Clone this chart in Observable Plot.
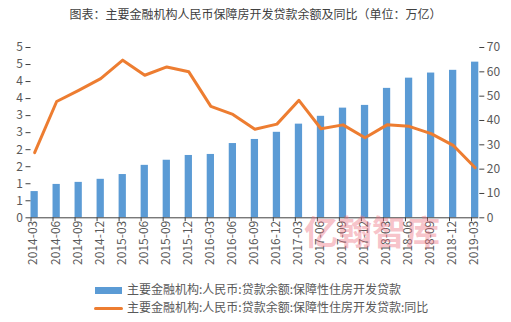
<!DOCTYPE html>
<html>
<head>
<meta charset="utf-8">
<script src="https://cdn.jsdelivr.net/npm/d3@7"></script>
<script src="https://cdn.jsdelivr.net/npm/@observablehq/plot@0.6"></script>
<style>
  html, body { margin: 0; padding: 0; background: #fff; }
  body { width: 511px; height: 322px; position: relative; overflow: hidden; font-family: "Noto Sans CJK SC", "Noto Sans", sans-serif; }
  #title { height: 28px; line-height: 28px; text-align: center; font-size: 12px; color: #404040; }
  #chart { height: 250px; }
  #legend { position: absolute; left: 0; top: 278px; width: 511px; font-size: 12px; color: #595959; }
  .row { position: absolute; left: 94px; height: 18px; line-height: 18px; white-space: nowrap; }
  .sw { display: inline-block; vertical-align: middle; margin-right: 4px; }
  #wm { position: absolute; left: 304px; top: 206px; font-size: 34px; font-weight: bold; color: rgba(236,110,125,0.42); pointer-events: none; white-space: nowrap; }
</style>
</head>
<body>
<div id="title">图表：主要金融机构人民币保障房开发贷款余额及同比（单位：万亿）</div>
<div id="chart"></div>
<div id="legend"></div>
<div id="wm">亿翰智库</div>
<script>
const categories = ["2014-03","2014-06","2014-09","2014-12","2015-03","2015-06","2015-09","2015-12","2016-03","2016-06","2016-09","2016-12","2017-03","2017-06","2017-09","2017-12","2018-03","2018-06","2018-09","2018-12","2019-03"];
const balance = [0.77,0.98,1.04,1.13,1.27,1.54,1.69,1.83,1.86,2.18,2.30,2.51,2.75,2.98,3.22,3.30,3.80,4.10,4.25,4.33,4.57];
const yoy = [26.8,47.8,52.4,57.2,64.8,58.6,62.0,60.0,45.8,42.5,36.4,38.5,48.3,36.6,38.2,32.9,38.2,37.6,34.6,29.8,20.6];
const leftTicks = [0,0.5,1,1.5,2,2.5,3,3.5,4,4.5,5];
const rightTicks = [0,10,20,30,40,50,60,70];
const seriesNames = ["主要金融机构:人民币:贷款余额:保障性住房开发贷款", "主要金融机构:人民币:贷款余额:保障性住房开发贷款:同比"];

const data = categories.map((c, i) => ({c, b: balance[i], r: yoy[i]}));
const W = 511, mL = 30.5, mR = 32.7, pin = 0.67;
const step = (W - mL - mR) / (categories.length - pin);
const bw = step * (1 - pin);
const k = 5 / 70;

const chart = Plot.plot({
  width: W, height: 250,
  marginTop: 19, marginBottom: 60.7, marginLeft: mL, marginRight: mR,
  style: {fontFamily: "Noto Sans CJK SC, Noto Sans, sans-serif", fontSize: "12px", background: "white", overflow: "visible"},
  x: {type: "band", domain: categories, paddingInner: pin, paddingOuter: 0, round: false, axis: null, label: null},
  y: {domain: [0, 5], axis: null, label: null},
  marks: [
    Plot.barY(data, {x: "c", y: "b", fill: "#5b9bd5"}),
    Plot.line(data, {x: "c", y: d => d.r * k, stroke: "#ed7d31", strokeWidth: 3, strokeLinejoin: "round"}),
    Plot.ruleY([0], {stroke: "#404040"}),
    Plot.axisY(leftTicks, {anchor: "left", label: null, tickSize: 5, tickPadding: 3, line: true, color: "#595959", stroke: "#404040", tickFormat: d => String(Math.round(d)), fontSize: 12}),
    Plot.axisY(rightTicks.map(v => v * k), {anchor: "right", label: null, tickSize: 5, tickPadding: 3, line: true, color: "#595959", stroke: "#404040", tickFormat: d => String(Math.round(d / k)), fontSize: 12}),
    Plot.axisX({anchor: "bottom", label: null, tickSize: 4, text: null, dx: -bw / 2, stroke: "#404040"}),
    Plot.axisX({anchor: "bottom", label: null, tickSize: 0, tickPadding: 3, tickRotate: -90, dx: -1, color: "#595959", fontSize: 12})
  ]
});
document.getElementById("chart").appendChild(chart);

const legend = document.getElementById("legend");
legend.innerHTML =
  `<div class="row" style="top:2px"><span class="sw" style="width:27px;height:7px;background:#5b9bd5;margin-left:1px;margin-right:5px"></span>${seriesNames[0]}</div>` +
  `<div class="row" style="top:20px"><span class="sw" style="width:29px;height:3px;background:#ed7d31;border-radius:1.5px"></span>${seriesNames[1]}</div>`;
</script>
</body>
</html>
